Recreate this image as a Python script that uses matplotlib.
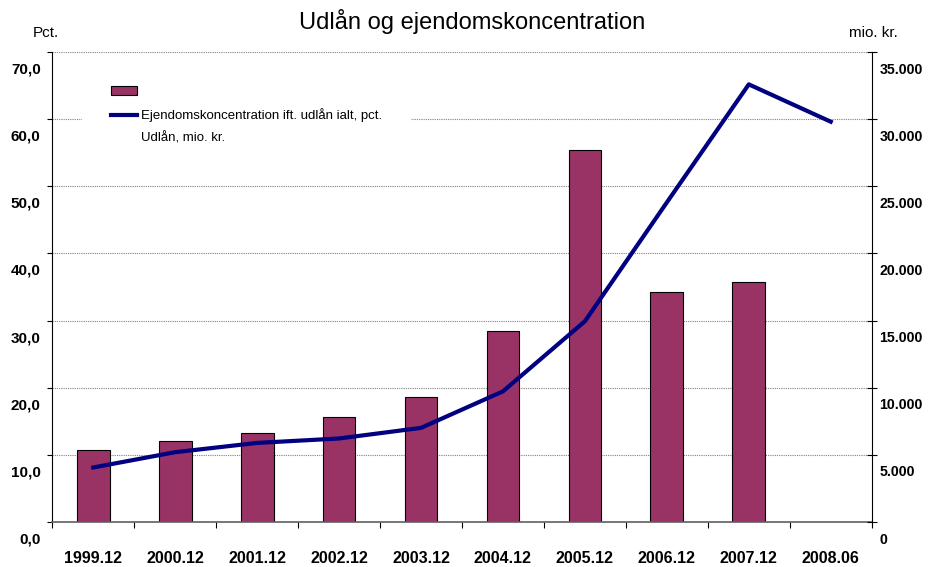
import matplotlib
matplotlib.use('Agg')
import matplotlib.pyplot as plt
import numpy as np
from matplotlib.transforms import ScaledTranslation
from matplotlib.patches import Patch
from matplotlib.lines import Line2D

plt.rcParams['font.family'] = ['Liberation Sans', 'DejaVu Sans']

categories = ['1999.12', '2000.12', '2001.12', '2002.12', '2003.12',
              '2004.12', '2005.12', '2006.12', '2007.12', '2008.06']
ejendom_pct = [10.65, 12.0, 13.3, 15.6, 18.6, 28.4, 55.4, 34.2, 35.7, np.nan]
udlaan_mio = [4060, 5200, 5890, 6220, 7010, 9730, 14950, 23800, 32590, 29810]

left_ticks = [0, 10, 20, 30, 40, 50, 60, 70]
left_labels = ['0,0', '10,0', '20,0', '30,0', '40,0', '50,0', '60,0', '70,0']
right_ticks = [0, 5000, 10000, 15000, 20000, 25000, 30000, 35000]
right_labels = ['0', '5.000', '10.000', '15.000', '20.000', '25.000', '30.000', '35.000']

title = 'Udlån og ejendomskoncentration'
legend_labels = ['', 'Ejendomskoncentration ift. udlån ialt, pct.', 'Udlån, mio. kr.']

W, H = 933, 567
fig = plt.figure(figsize=(W / 100, H / 100), dpi=100)
ax = fig.add_axes([52.3 / W, 1 - 522 / H, (871.7 - 52.3) / W, 470 / H])

x = np.arange(len(categories))
ax.bar(x, ejendom_pct, width=0.4, color='#993366', edgecolor='black', linewidth=0.8, zorder=2)
ax.set_xlim(-0.5, len(categories) - 0.5)
ax.set_ylim(0, 70)
ax.set_yticks(left_ticks)
ax.set_yticklabels(left_labels, fontsize=11, fontweight='bold')
ax.yaxis.grid(True, linestyle=(0, (1, 1)), color='#808080', linewidth=0.8)
ax.set_axisbelow(True)
ax.tick_params(axis='y', direction='out', length=3.6, width=0.8, pad=4.8)
ax.set_xticks(x)
ax.set_xticklabels(categories, fontsize=11.5, fontweight='bold')
ax.set_xticks(np.arange(-0.5, len(categories), 1), minor=True)
ax.tick_params(axis='x', which='major', length=0, pad=21)
ax.tick_params(axis='x', which='minor', length=4, width=0.8, direction='out')
for s in ['top', 'right']:
    ax.spines[s].set_visible(False)
ax.spines['left'].set_linewidth(0.8)
ax.spines['bottom'].set_color('#606060')
ax.spines['bottom'].set_linewidth(1.2)

off = ScaledTranslation(0, -0.16, fig.dpi_scale_trans)
for lab in ax.get_yticklabels():
    lab.set_transform(lab.get_transform() + off)

ax2 = ax.twinx()
ax2.plot(x, udlaan_mio, color='#000080', linewidth=3, zorder=3)
ax2.set_ylim(0, 35000)
ax2.set_yticks(right_ticks)
ax2.set_yticklabels(right_labels, fontsize=10.2, fontweight='bold')
ax2.tick_params(axis='y', direction='inout', length=7.2, width=0.8, pad=2)
for s in ['top', 'left', 'bottom']:
    ax2.spines[s].set_visible(False)
ax2.spines['right'].set_linewidth(0.8)
for lab in ax2.get_yticklabels():
    lab.set_transform(lab.get_transform() + off)

handles = [Patch(facecolor='#993366', edgecolor='black', linewidth=0.8),
           Line2D([], [], color='#000080', linewidth=3),
           Line2D([], [], linestyle='none')]
leg = ax2.legend(handles, legend_labels, loc='upper left',
                 bbox_to_anchor=(82 / W, 1 - 57 / H), bbox_transform=fig.transFigure,
                 fontsize=9.5, frameon=True, facecolor='white', edgecolor='none',
                 framealpha=1, fancybox=False, borderpad=2.2, handlelength=1.97,
                 handleheight=0.6, handletextpad=0.3, labelspacing=0.78, borderaxespad=0)

fig.text(472 / W, 1 - 22 / H, title, ha='center', va='center', fontsize=17)
fig.text(46 / W, 1 - 33 / H, 'Pct.', ha='center', va='center', fontsize=11)
fig.text(873 / W, 1 - 33 / H, 'mio. kr.', ha='center', va='center', fontsize=11)

fig.savefig('out.png', dpi=100)
